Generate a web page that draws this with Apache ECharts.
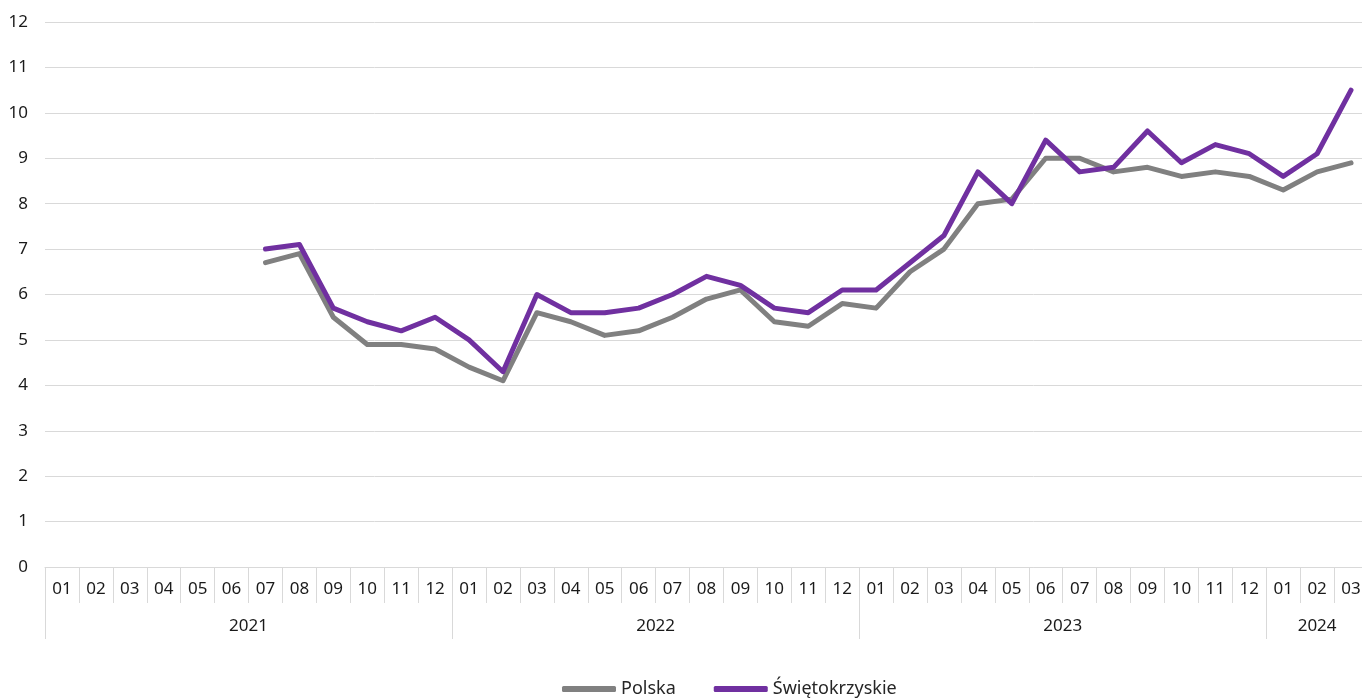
<!DOCTYPE html>
<html>
<head>
<meta charset="utf-8">
<script src="https://cdn.jsdelivr.net/npm/echarts@6/dist/echarts.min.js"></script>
<style>
  html, body { margin: 0; padding: 0; background: #fff; }
  #chart { width: 1362px; height: 699px; }
</style>
</head>
<body>
<div id="chart"></div>
<script>
// miesiące 2021-01 .. 2024-03
const years = ['2021', '2022', '2023', '2024'];
const monthsPerYear = [12, 12, 12, 3];
const monthLabels = [];
years.forEach((y, k) => {
    for (let m = 1; m <= monthsPerYear[k]; m++) {
        monthLabels.push(m < 10 ? '0' + m : String(m));
    }
});

const polska = [
    null, null, null, null, null, null,
    6.7, 6.9, 5.5, 4.9, 4.9, 4.8,
    4.4, 4.1, 5.6, 5.4, 5.1, 5.2, 5.5, 5.9, 6.1, 5.4, 5.3, 5.8,
    5.7, 6.5, 7.0, 8.0, 8.1, 9.0, 9.0, 8.7, 8.8, 8.6, 8.7, 8.6,
    8.3, 8.7, 8.9
];
const swietokrzyskie = [
    null, null, null, null, null, null,
    7.0, 7.1, 5.7, 5.4, 5.2, 5.5,
    5.0, 4.3, 6.0, 5.6, 5.6, 5.7, 6.0, 6.4, 6.2, 5.7, 5.6, 6.1,
    6.1, 6.7, 7.3, 8.7, 8.0, 9.4, 8.7, 8.8, 9.6, 8.9, 9.3, 9.1,
    8.6, 9.1, 10.5
];

// granice i środki lat na osi (w jednostkach miesięcy)
const yearBounds = [0];
const yearCenters = [];
monthsPerYear.forEach(n => {
    const start = yearBounds[yearBounds.length - 1];
    yearCenters.push(start + n / 2);
    yearBounds.push(start + n);
});

const font = 'Noto Sans';
const textColor = '#1a1a1a';
const lineGrey = '#d9d9d9';

const chart = echarts.init(document.getElementById('chart'));
chart.setOption({
    animation: false,
    textStyle: { fontFamily: font },
    // obszar wykresu wychodzi nieco poza prawą krawędź, jak w oryginale
    grid: { left: 45, width: 1323, top: 22, bottom: 132, outerBoundsMode: 'none' },
    legend: {
        left: 562,
        top: 680,
        padding: 0,
        itemWidth: 54,
        itemHeight: 6,
        itemGap: 38,
        icon: 'roundRect',
        textStyle: { fontFamily: font, fontSize: 18, color: '#262626' },
        data: ['Polska', 'Świętokrzyskie']
    },
    xAxis: [
        {
            type: 'category',
            data: monthLabels,
            boundaryGap: true,
            axisLine: { show: true, lineStyle: { color: lineGrey, width: 1 } },
            axisTick: { show: true, interval: 0, length: 36, lineStyle: { color: lineGrey } },
            axisLabel: { interval: 0, margin: 14, fontSize: 17, color: textColor, fontFamily: font }
        },
        {
            type: 'value',
            position: 'bottom',
            min: 0,
            max: yearBounds[yearBounds.length - 1],
            axisLine: { show: false },
            splitLine: { show: false },
            axisTick: {
                show: true,
                length: 72,
                customValues: yearBounds,
                lineStyle: { color: lineGrey }
            },
            axisLabel: {
                margin: 51,
                fontSize: 17,
                color: textColor,
                fontFamily: font,
                customValues: yearCenters,
                formatter: v => years[yearCenters.indexOf(v)] || ''
            }
        }
    ],
    yAxis: {
        type: 'value',
        min: 0,
        max: 12,
        interval: 1,
        axisLine: { show: false },
        axisTick: { show: false },
        axisLabel: { margin: 17, fontSize: 17, color: textColor, fontFamily: font },
        splitLine: { lineStyle: { color: lineGrey, width: 1 } }
    },
    series: [
        {
            name: 'Polska',
            type: 'line',
            data: polska,
            showSymbol: false,
            symbol: 'none',
            color: '#808080',
            lineStyle: { width: 5, color: '#808080', cap: 'round', join: 'round' }
        },
        {
            name: 'Świętokrzyskie',
            type: 'line',
            data: swietokrzyskie,
            showSymbol: false,
            symbol: 'none',
            color: '#7030a0',
            lineStyle: { width: 5, color: '#7030a0', cap: 'round', join: 'round' }
        }
    ]
});
</script>
</body>
</html>
